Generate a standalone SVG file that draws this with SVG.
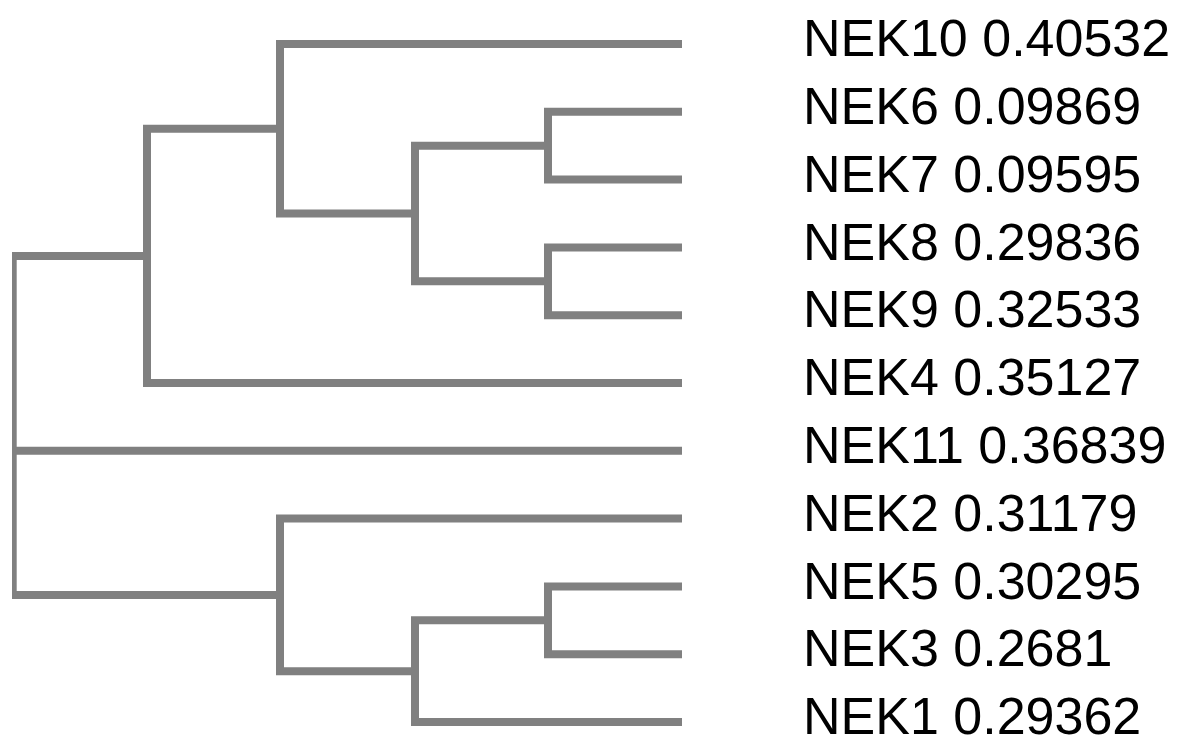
<svg xmlns="http://www.w3.org/2000/svg" width="1189" height="740" viewBox="0 0 1189 740">
  <style>
    .branch { fill: none; stroke: #808080; stroke-width: 8; stroke-linecap: butt; stroke-linejoin: miter; }
    .label { font-family: "Liberation Sans", Arial, Helvetica, sans-serif; font-size: 52px; fill: #000; }
  </style>
  <defs>
    <clipPath id="plotArea">
      <rect x="12" y="0" width="1177" height="740"/>
    </clipPath>
  </defs>
  <rect width="1189" height="740" fill="#fff"/>

  <!-- tree branches (rectangular dendrogram) -->
  <g id="connectors" clip-path="url(#plotArea)">
    <path id="n6-7" class="branch" d="M682 111.8 H548 V179.6 H682"/>
    <path id="n8-9" class="branch" d="M682 247.4 H548 V315.2 H682"/>
    <path id="n6-9" class="branch" d="M548 145.7 H415 V281.3 H548"/>
    <path id="n10-9" class="branch" d="M682 44 H280 V213.5 H415"/>
    <path id="n10-4" class="branch" d="M280 128.75 H147 V383 H682"/>
    <path id="n5-3" class="branch" d="M682 586.4 H548 V654.2 H682"/>
    <path id="n5-1" class="branch" d="M548 620.3 H415 V722 H682"/>
    <path id="n2-1" class="branch" d="M682 518.6 H280 V671.15 H415"/>
    <path id="root" class="branch" d="M147 255.9 H12.7 V594.9 H280 M12.7 450.8 H682"/>
  </g>

  <!-- leaves -->
  <g id="NEK10"><text class="label" x="803" y="56.2">NEK10 0.40532</text></g>
  <g id="NEK6"><text class="label" x="803" y="124">NEK6 0.09869</text></g>
  <g id="NEK7"><text class="label" x="803" y="191.8">NEK7 0.09595</text></g>
  <g id="NEK8"><text class="label" x="803" y="259.6">NEK8 0.29836</text></g>
  <g id="NEK9"><text class="label" x="803" y="327.4">NEK9 0.32533</text></g>
  <g id="NEK4"><text class="label" x="803" y="395.2">NEK4 0.35127</text></g>
  <g id="NEK11"><text class="label" x="803" y="463">NEK11 0.36839</text></g>
  <g id="NEK2"><text class="label" x="803" y="530.8">NEK2 0.31179</text></g>
  <g id="NEK5"><text class="label" x="803" y="598.6">NEK5 0.30295</text></g>
  <g id="NEK3"><text class="label" x="803" y="666.4">NEK3 0.2681</text></g>
  <g id="NEK1"><text class="label" x="803" y="734.2">NEK1 0.29362</text></g>
</svg>
